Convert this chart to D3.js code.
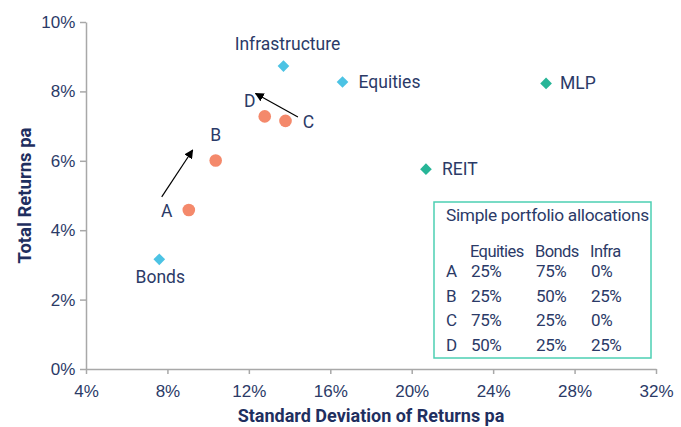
<!DOCTYPE html>
<html>
<head>
<meta charset="utf-8">
<script src="https://cdn.jsdelivr.net/npm/d3@7"></script>
<style>
  body { margin: 0; background: #fff; }
  svg { display: block; font-family: Roboto, "Liberation Sans", sans-serif; }
</style>
</head>
<body>
<svg id="chart" width="681" height="427"></svg>
<script>
// asset classes (diamonds)
const assetNames = ["Bonds", "Infrastructure", "Equities", "REIT", "MLP"];
const assetRisk = [7.6, 13.7, 16.6, 20.7, 26.6];
const assetReturn = [3.16, 8.73, 8.27, 5.76, 8.23];
const assetColors = ["#4cc3e4", "#4cc3e4", "#4cc3e4", "#27b597", "#27b597"];

// portfolios (circles)
const portNames = ["A", "B", "C", "D"];
const portRisk = [9.05, 10.37, 13.8, 12.78];
const portReturn = [4.58, 6.01, 7.15, 7.28];

// allocation table
const tableHeaders = ["Equities", "Bonds", "Infra"];
const tableRows = [
  ["A", "25%", "75%", "0%"],
  ["B", "25%", "50%", "25%"],
  ["C", "75%", "25%", "0%"],
  ["D", "50%", "25%", "25%"]
];

// arrows (from -> to, in data units)
const arrows = [
  { x1: 7.72, y1: 4.96, x2: 9.24, y2: 6.31 },
  { x1: 14.41, y1: 7.26, x2: 12.33, y2: 7.94 }
];

const xTicks = [4, 8, 12, 16, 20, 24, 28, 32];
const yTicks = [0, 2, 4, 6, 8, 10];

const textColor = "#2b3a67";
const margin = { top: 22, right: 25, bottom: 58, left: 86 };
const width = 681, height = 427;

const svg = d3.select("#chart");

const x = d3.scaleLinear().domain([4, 32]).range([margin.left, width - margin.right]);
const y = d3.scaleLinear().domain([0, 10]).range([height - margin.bottom, margin.top]);

const fmt = d => d + "%";

// x axis
const xAxis = svg.append("g")
  .attr("transform", `translate(0,${y(0)})`)
  .call(d3.axisBottom(x).tickValues(xTicks).tickFormat(fmt).tickSize(5).tickSizeOuter(0));
xAxis.selectAll("text").attr("font-size", 17).attr("fill", textColor).attr("dy", "1.2em");

// y axis
const yAxis = svg.append("g")
  .attr("transform", `translate(${x(4)},0)`)
  .call(d3.axisLeft(y).tickValues(yTicks).tickFormat(fmt).tickSize(6).tickSizeOuter(0));
yAxis.selectAll("text").attr("font-size", 17).attr("fill", textColor).attr("dx", "-0.1em");

svg.selectAll(".domain, .tick line").attr("stroke", "#a8a8a8").attr("stroke-width", 1.5);

// axis titles
svg.append("text")
  .attr("x", (x(4) + x(32)) / 2)
  .attr("y", 422)
  .attr("text-anchor", "middle")
  .attr("font-size", 18)
  .attr("font-weight", "bold")
  .attr("fill", "#1f2f5f")
  .text("Standard Deviation of Returns pa");

svg.append("text")
  .attr("transform", `translate(31,${(y(0) + y(10)) / 2}) rotate(-90)`)
  .attr("text-anchor", "middle")
  .attr("font-size", 18.5)
  .attr("font-weight", "bold")
  .attr("fill", "#1f2f5f")
  .text("Total Returns pa");

// arrow marker
svg.append("defs").append("marker")
  .attr("id", "arrowhead")
  .attr("viewBox", "0 0 10 10")
  .attr("refX", 9).attr("refY", 5)
  .attr("markerWidth", 9).attr("markerHeight", 9)
  .attr("markerUnits", "userSpaceOnUse")
  .attr("orient", "auto")
  .append("path")
  .attr("d", "M0,0 L10,5 L0,10 Z")
  .attr("fill", "#000");

svg.selectAll(".arrow")
  .data(arrows)
  .enter()
  .append("line")
  .attr("class", "arrow")
  .attr("x1", d => x(d.x1)).attr("y1", d => y(d.y1))
  .attr("x2", d => x(d.x2)).attr("y2", d => y(d.y2))
  .attr("stroke", "#000")
  .attr("stroke-width", 1.2)
  .attr("marker-end", "url(#arrowhead)");

// asset diamonds (a square turned 45 degrees)
const diamond = d3.symbol().type(d3.symbolSquare).size(68);
svg.selectAll(".asset")
  .data(assetNames)
  .enter()
  .append("path")
  .attr("class", "asset")
  .attr("d", diamond)
  .attr("transform", (d, i) => `translate(${x(assetRisk[i])},${y(assetReturn[i])}) rotate(45)`)
  .attr("fill", (d, i) => assetColors[i]);

// portfolio circles
svg.selectAll(".port")
  .data(portNames)
  .enter()
  .append("circle")
  .attr("class", "port")
  .attr("cx", (d, i) => x(portRisk[i]))
  .attr("cy", (d, i) => y(portReturn[i]))
  .attr("r", 6.3)
  .attr("fill", "#f4896b");

// point labels: offsets relative to the marker
const assetLabelOffsets = [
  { dx: 1, dy: 24, anchor: "middle" },
  { dx: 4, dy: -16, anchor: "middle" },
  { dx: 16, dy: 6, anchor: "start" },
  { dx: 16, dy: 6, anchor: "start" },
  { dx: 14, dy: 6, anchor: "start" }
];
svg.selectAll(".asset-label")
  .data(assetNames)
  .enter()
  .append("text")
  .attr("x", (d, i) => x(assetRisk[i]) + assetLabelOffsets[i].dx)
  .attr("y", (d, i) => y(assetReturn[i]) + assetLabelOffsets[i].dy)
  .attr("text-anchor", (d, i) => assetLabelOffsets[i].anchor)
  .attr("font-size", 17.5)
  .attr("fill", textColor)
  .text(d => d);

const portLabelOffsets = [
  { dx: -22, dy: 7 },
  { dx: 0, dy: -19 },
  { dx: 23, dy: 7 },
  { dx: -15, dy: -9 }
];
svg.selectAll(".port-label")
  .data(portNames)
  .enter()
  .append("text")
  .attr("x", (d, i) => x(portRisk[i]) + portLabelOffsets[i].dx)
  .attr("y", (d, i) => y(portReturn[i]) + portLabelOffsets[i].dy)
  .attr("text-anchor", "middle")
  .attr("font-size", 17.5)
  .attr("fill", textColor)
  .text(d => d);

// allocation table box
const box = svg.append("g").attr("transform", "translate(434,202)");
box.append("rect")
  .attr("width", 217).attr("height", 156)
  .attr("fill", "#fff")
  .attr("stroke", "#4ccfb3")
  .attr("stroke-width", 1.5);

box.append("text")
  .attr("x", 12).attr("y", 19)
  .attr("font-size", 17.3)
  .attr("letter-spacing", -0.3)
  .attr("fill", textColor)
  .text("Simple portfolio allocations");

const colX = [12, 37, 102, 157];
box.selectAll(".hdr")
  .data(tableHeaders)
  .enter()
  .append("text")
  .attr("x", (d, i) => colX[i + 1] - 1)
  .attr("y", 55)
  .attr("font-size", 16.5)
  .attr("letter-spacing", -0.6)
  .attr("fill", textColor)
  .text(d => d);

tableRows.forEach((row, r) => {
  box.selectAll(".row" + r)
    .data(row)
    .enter()
    .append("text")
    .attr("x", (d, i) => colX[i])
    .attr("y", 75 + r * 24.5)
    .attr("font-size", 17)
    .attr("letter-spacing", -0.4)
    .attr("fill", textColor)
    .text(d => d);
});
</script>
</body>
</html>
